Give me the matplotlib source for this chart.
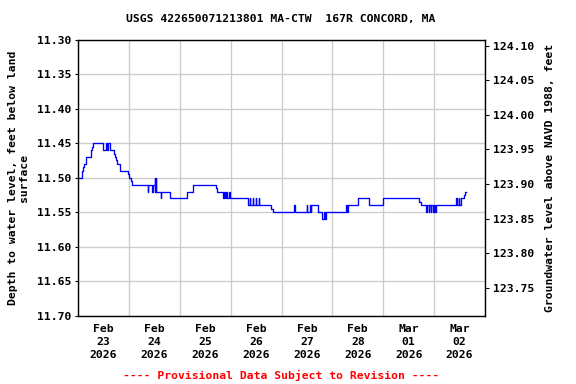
import pandas as pd
import matplotlib
matplotlib.use("Agg")
import matplotlib.pyplot as plt
import matplotlib.dates as mdates

# Depth to water (ft below land surface), 15-minute steps
times = [
    "2026-02-23 00:00", "2026-02-23 01:45", "2026-02-23 02:15", "2026-02-23 03:00",
    "2026-02-23 04:00", "2026-02-23 06:00", "2026-02-23 06:45", "2026-02-23 07:15",
    "2026-02-23 11:45", "2026-02-23 13:00", "2026-02-23 13:30", "2026-02-23 14:15",
    "2026-02-23 15:00", "2026-02-23 16:45", "2026-02-23 17:30", "2026-02-23 18:00",
    "2026-02-23 18:30", "2026-02-23 19:45", "2026-02-23 23:30", "2026-02-24 00:00",
    "2026-02-24 01:00", "2026-02-24 01:30", "2026-02-24 09:00", "2026-02-24 09:15",
    "2026-02-24 11:00", "2026-02-24 11:15", "2026-02-24 12:15", "2026-02-24 12:30",
    "2026-02-24 12:45", "2026-02-24 13:00", "2026-02-24 15:00", "2026-02-24 15:15",
    "2026-02-24 19:15", "2026-02-25 03:15", "2026-02-25 06:15", "2026-02-25 17:00",
    "2026-02-25 17:30", "2026-02-25 20:15", "2026-02-25 21:00", "2026-02-25 21:15",
    "2026-02-25 22:00", "2026-02-25 22:15", "2026-02-25 23:15", "2026-02-25 23:30",
    "2026-02-26 08:00", "2026-02-26 09:00", "2026-02-26 09:15", "2026-02-26 10:30",
    "2026-02-26 10:45", "2026-02-26 11:45", "2026-02-26 12:00", "2026-02-26 13:15",
    "2026-02-26 13:30", "2026-02-26 19:15", "2026-02-26 20:00", "2026-02-27 06:00",
    "2026-02-27 06:15", "2026-02-27 12:00", "2026-02-27 12:15", "2026-02-27 13:15",
    "2026-02-27 13:45", "2026-02-27 14:00", "2026-02-27 17:00", "2026-02-27 19:15",
    "2026-02-27 20:15", "2026-02-27 20:30", "2026-02-27 21:00", "2026-02-27 21:30",
    "2026-02-28 06:30", "2026-02-28 06:45", "2026-02-28 07:15", "2026-02-28 12:15",
    "2026-02-28 17:30", "2026-02-28 23:45", "2026-03-01 17:00", "2026-03-01 18:00",
    "2026-03-01 20:15", "2026-03-01 20:30", "2026-03-01 21:30", "2026-03-01 21:45",
    "2026-03-01 22:30", "2026-03-01 22:45", "2026-03-01 23:30", "2026-03-01 23:45",
    "2026-03-02 00:30", "2026-03-02 00:45", "2026-03-02 01:30", "2026-03-02 10:30",
    "2026-03-02 10:45", "2026-03-02 11:30", "2026-03-02 11:45", "2026-03-02 12:45",
    "2026-03-02 14:00", "2026-03-02 14:30", "2026-03-02 15:00",
]
depth = [
    11.50, 11.49, 11.485, 11.48,
    11.47, 11.46, 11.455, 11.45,
    11.46, 11.45, 11.46, 11.45,
    11.46, 11.465, 11.47, 11.475,
    11.48, 11.49, 11.495, 11.50,
    11.505, 11.51, 11.52, 11.51,
    11.52, 11.51, 11.50, 11.52,
    11.50, 11.52, 11.53, 11.52,
    11.53, 11.52, 11.51, 11.515,
    11.52, 11.53, 11.52, 11.53,
    11.52, 11.53, 11.52, 11.53,
    11.54, 11.53, 11.54, 11.53,
    11.54, 11.53, 11.54, 11.53,
    11.54, 11.545, 11.55, 11.54,
    11.55, 11.54, 11.55, 11.54,
    11.55, 11.54, 11.55, 11.56,
    11.55, 11.56, 11.55, 11.55,
    11.54, 11.55, 11.54, 11.53,
    11.54, 11.53, 11.535, 11.54,
    11.55, 11.54, 11.55, 11.54,
    11.55, 11.54, 11.55, 11.54,
    11.55, 11.54, 11.54, 11.53,
    11.54, 11.53, 11.54, 11.53,
    11.525, 11.52, 11.52,
]

# datum offset: elevation = offset - depth
offset = 135.409
left_ticks = [11.30, 11.35, 11.40, 11.45, 11.50, 11.55, 11.60, 11.65, 11.70]
right_ticks = [123.75, 123.80, 123.85, 123.90, 123.95, 124.00, 124.05, 124.10]
day_labels = ["Feb\n23\n2026", "Feb\n24\n2026", "Feb\n25\n2026", "Feb\n26\n2026",
              "Feb\n27\n2026", "Feb\n28\n2026", "Mar\n01\n2026", "Mar\n02\n2026"]

t = pd.to_datetime(times)
x_start = pd.Timestamp("2026-02-23 00:00")
x_end = pd.Timestamp("2026-03-03 00:00")

font = "DejaVu Sans Mono"
fs = 8.5

fig = plt.figure(figsize=(6, 4), dpi=96)
ax = fig.add_axes([78 / 576, 1 - 316 / 384, 407 / 576, 276.5 / 384])

ax.plot(t, depth, color="#0000ff", linewidth=1.0, drawstyle="steps-post")

ax.set_xlim(x_start, x_end)
ax.set_ylim(11.70, 11.30)
ax.set_yticks(left_ticks)
ax.set_yticklabels([f"{v:.2f}" for v in left_ticks], fontfamily=font,
                   fontweight="bold", fontsize=fs)

midnights = pd.date_range(x_start, x_end, freq="D")
noons = pd.date_range("2026-02-23 12:00", periods=8, freq="D")
ax.set_xticks(midnights)
ax.set_xticklabels([])
ax.set_xticks(noons, minor=True)
ax.set_xticklabels(day_labels, minor=True, fontfamily=font,
                   fontweight="bold", fontsize=fs, linespacing=1.35)
ax.tick_params(axis="x", which="both", length=0, pad=6)
ax.tick_params(axis="y", length=2, width=0.8, pad=3)
ax.grid(True, color="#cccccc", linewidth=1.0)
ax.set_axisbelow(True)
for s in ax.spines.values():
    s.set_linewidth(1.0)

ax.set_ylabel("Depth to water level, feet below land\nsurface", fontfamily=font,
              fontweight="bold", fontsize=fs, labelpad=6, linespacing=1.1)

ax2 = ax.twinx()
ax2.set_ylim(offset - 11.70, offset - 11.30)
ax2.set_yticks(right_ticks)
ax2.set_yticklabels([f"{v:.2f}" for v in right_ticks], fontfamily=font,
                    fontweight="bold", fontsize=fs)
ax2.tick_params(axis="y", length=3, width=0.8, pad=3)
ax2.set_ylabel("Groundwater level above NAVD 1988, feet", fontfamily=font,
               fontweight="bold", fontsize=fs, labelpad=8)

fig.text(281 / 576, 1 - 19 / 384, "USGS 422650071213801 MA-CTW  167R CONCORD, MA",
         ha="center", va="center", fontfamily=font, fontweight="bold", fontsize=fs)
fig.text(281 / 576, 1 - 375 / 384, "---- Provisional Data Subject to Revision ----",
         ha="center", va="center", fontfamily=font, fontweight="bold",
         fontsize=fs, color="red")

fig.savefig("out.png", dpi=96)
